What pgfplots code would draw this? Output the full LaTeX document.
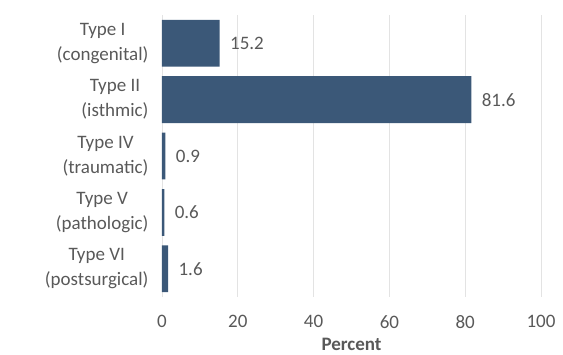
\documentclass[border=0pt]{standalone}
\usepackage{pgfplots}
\pgfplotsset{compat=1.18}
\usepackage{fontspec}
\setmainfont{Carlito}
\definecolor{barblue}{HTML}{3B5878}
\definecolor{txtgray}{HTML}{595959}
\definecolor{gridgray}{HTML}{E3E3E3}
\begin{document}
\begin{tikzpicture}[x=1pt,y=1pt]
\begin{axis}[
  scale only axis,
  width=379pt, height=282pt,
  xbar,
  xmin=0, xmax=100,
  ymin=0.5, ymax=5.5,
  y dir=reverse,
  bar width=0.83,
  axis line style={draw=none},
  major tick length=0pt,
  xtick={0,20,40,60,80,100},
  ytick={1,2,3,4,5},
  yticklabels={{Type I\\(congenital)},{Type II\\(isthmic)},{Type IV\\(traumatic)},{Type V\\(pathologic)},{Type VI\\(postsurgical)}},
  yticklabel style={align=center, font=\fontsize{19}{25}\selectfont, text=txtgray, xshift=-10pt},
  xticklabel style={font=\fontsize{19}{22}\selectfont, text=txtgray, yshift=-15pt},
  /pgf/number format/assume math mode=true,
  xmajorgrids,
  grid style={gridgray, line width=0.8pt},
  xlabel={\textbf{Percent}},
  xlabel style={font=\fontsize{19}{22}\selectfont, text=txtgray, yshift=-3pt},
  nodes near coords,
  point meta=x,
  nodes near coords style={font=\fontsize{19}{22}\selectfont, text=txtgray, anchor=west, xshift=7pt,
    /pgf/number format/fixed, /pgf/number format/fixed zerofill, /pgf/number format/precision=1},
  clip=false,
]
\addplot[fill=barblue, draw=none] coordinates {(15.2,1) (81.6,2) (0.9,3) (0.6,4) (1.6,5)};
\useasboundingbox (rel axis cs:-0.4274,1.0532) rectangle (rel axis cs:1.058,-0.1915);
\end{axis}
\end{tikzpicture}
\end{document}
